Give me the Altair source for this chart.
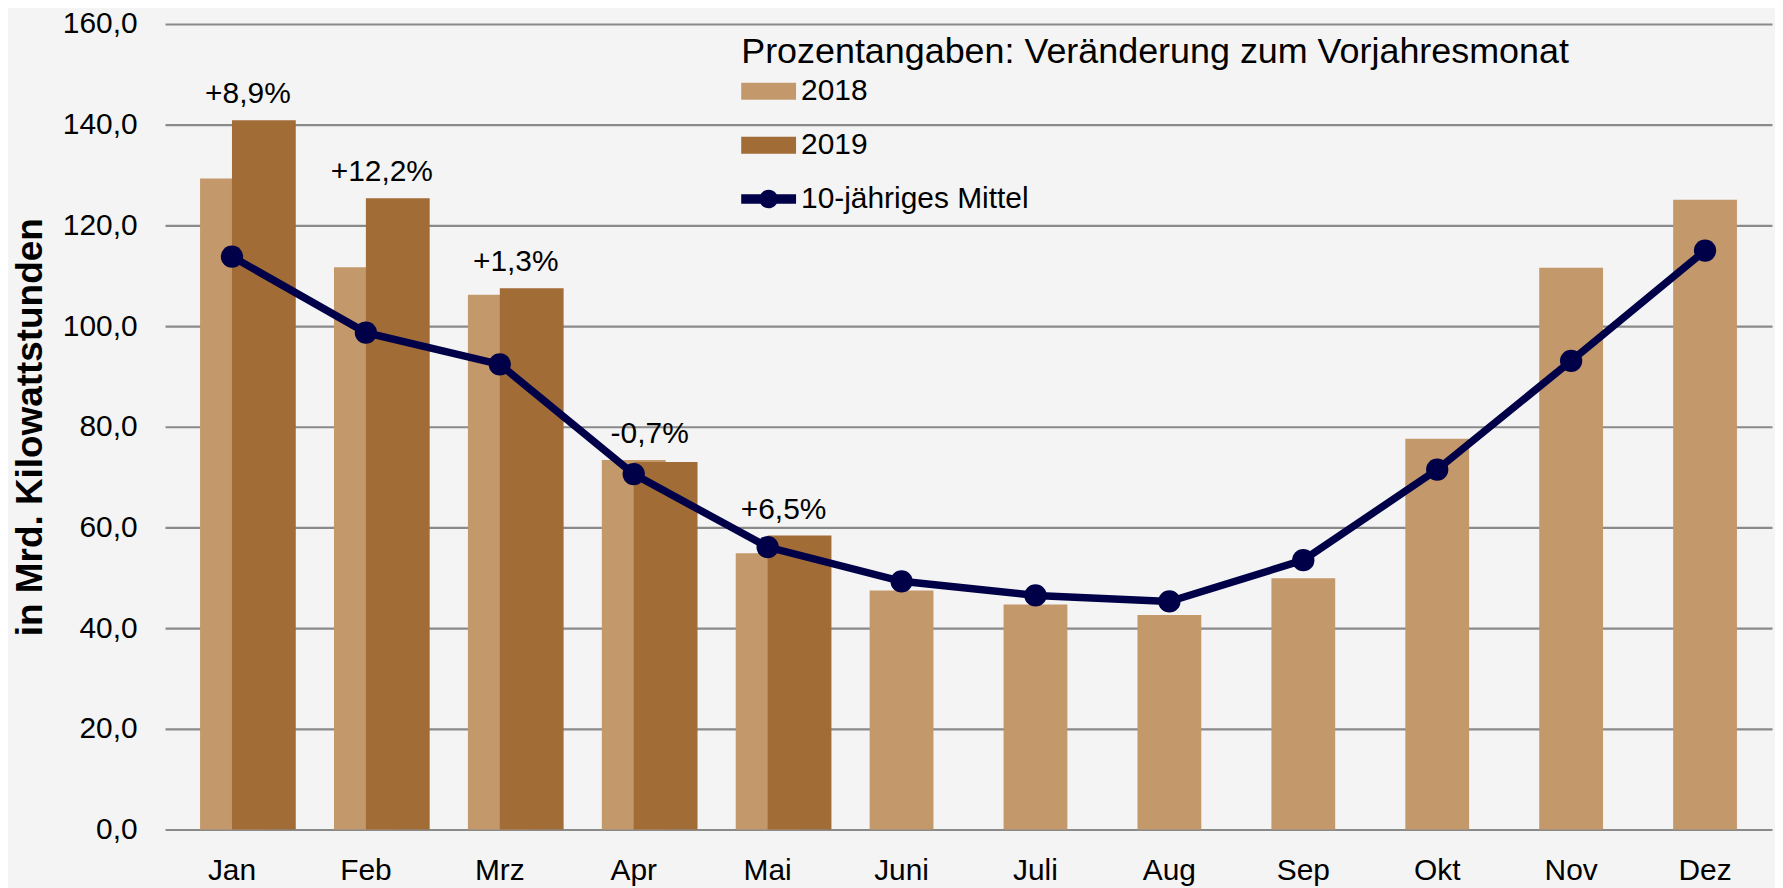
import altair as alt
import pandas as pd

# ---------------- data ----------------
months = ["Jan", "Feb", "Mrz", "Apr", "Mai", "Juni", "Juli", "Aug", "Sep", "Okt", "Nov", "Dez"]
values_2018 = [129.3, 111.7, 106.2, 73.4, 54.9, 47.5, 44.7, 42.6, 49.9, 77.6, 111.6, 125.1]
values_2019 = [140.9, 125.4, 107.5, 73.0, 58.4]
mittel = [113.8, 98.7, 92.4, 70.6, 56.1, 49.3, 46.5, 45.3, 53.5, 71.5, 93.1, 115.0]
changes = ["+8,9%", "+12,2%", "+1,3%", "-0,7%", "+6,5%"]
y_ticks = [0, 20, 40, 60, 80, 100, 120, 140, 160]

series_names = ["2018", "2019", "10-jähriges Mittel"]
series_colors = ["#C3986B", "#A16C36", "#000048"]

legend_title = "Prozentangaben: Veränderung zum Vorjahresmonat"
y_title = "in Mrd. Kilowattstunden"

# ---------------- tables ----------------
df_2018 = pd.DataFrame({"month": months, "value": values_2018, "series": series_names[0]})
df_2019 = pd.DataFrame({"month": months[:len(values_2019)], "value": values_2019,
                        "series": series_names[1]})
df_mittel = pd.DataFrame({"month": months, "value": mittel, "series": series_names[2]})
df_labels = pd.DataFrame({
    "month": months[:len(changes)],
    "value": [max(a, b) for a, b in zip(values_2018, values_2019)],
    "label": changes,
})

FONT = "Liberation Sans"
NAVY = series_colors[2]

x_enc = alt.X(
    "month:N",
    sort=months,
    scale=alt.Scale(domain=months, paddingInner=0, paddingOuter=0),
    axis=alt.Axis(
        title=None, labelAngle=0, labelFontSize=30, labelColor="black",
        labelFont=FONT, labelPadding=50, labelBaseline="alphabetic",
        ticks=False, tickSize=0, domain=False, grid=False,
    ),
)
y_enc = alt.Y(
    "value:Q",
    scale=alt.Scale(domain=[0, 160], nice=False, zero=True),
    axis=alt.Axis(
        values=y_ticks,
        labelExpr="replace(format(datum.value, '.1f'), '.', ',')",
        labelFontSize=30, labelColor="black", labelFont=FONT, labelPadding=28,
        ticks=False, tickSize=0, domain=False,
        grid=True, gridColor="#8A8A8A", gridWidth=2.2,
        title=y_title, titleFont=FONT, titleFontSize=37, titleFontWeight="bold",
        titleColor="black", titleAngle=270, titleAlign="center",
        titleBaseline="alphabetic", titleX=-124, titleY=404,
    ),
)

color_scale = alt.Scale(domain=series_names, range=series_colors)
rect_path = "M-1,-0.31H1V0.31H-1Z"
line_path = ("M-1,-0.17H1V0.17H-1Z "
             "M-0.34,0A0.34,0.34,0,1,1,0.34,0A0.34,0.34,0,1,1,-0.34,0Z")
shape_scale = alt.Scale(domain=series_names, range=[rect_path, rect_path, line_path])

legend = alt.Legend(
    title=legend_title, orient="none", legendX=578, legendY=11,
    padding=0, titleFont=FONT, titleFontSize=36, titleFontWeight="normal",
    titleColor="black", titleLimit=1200, titlePadding=-7,
    labelFont=FONT, labelFontSize=30, labelColor="black", labelLimit=600,
    labelOffset=5, symbolSize=3025, symbolStrokeWidth=0, symbolOpacity=1,
    rowPadding=11,
)

bars_2018 = alt.Chart(df_2018).mark_bar(size=64, color=series_colors[0]).encode(
    x=x_enc, y=y_enc,
)
bars_2019 = alt.Chart(df_2019).mark_bar(size=64, xOffset=32, color=series_colors[1]).encode(
    x=x_enc, y=y_enc,
)
line = alt.Chart(df_mittel).mark_line(color=NAVY, strokeWidth=7.5).encode(x=x_enc, y=y_enc)
points = alt.Chart(df_mittel).mark_circle(size=500, color=NAVY, opacity=1).encode(x=x_enc, y=y_enc)
labels = alt.Chart(df_labels).mark_text(
    fontSize=30, font=FONT, color="black", align="center",
    baseline="alphabetic", dy=-17, xOffset=16,
).encode(x=x_enc, y=y_enc, text="label:N")

# invisible marks that only carry the combined colour/shape legend
legend_layer = alt.Chart(df_mittel).mark_point(
    filled=True, opacity=0
).encode(
    x=x_enc, y=y_enc,
    color=alt.Color("series:N", scale=color_scale, legend=legend),
    shape=alt.Shape("series:N", scale=shape_scale, legend=legend),
)

chart = alt.layer(
    bars_2018, bars_2019, line, points, labels, legend_layer
).properties(
    width=1612, height=808,
    autosize=alt.AutoSizeParams(type="none"),
    padding={"left": 157.5, "top": 14.7, "right": 3, "bottom": 60},
).configure(
    background="#F4F4F4", font=FONT,
).configure_view(stroke=None)

chart.save("out.html", embed_options={"renderer": "svg", "actions": False})
